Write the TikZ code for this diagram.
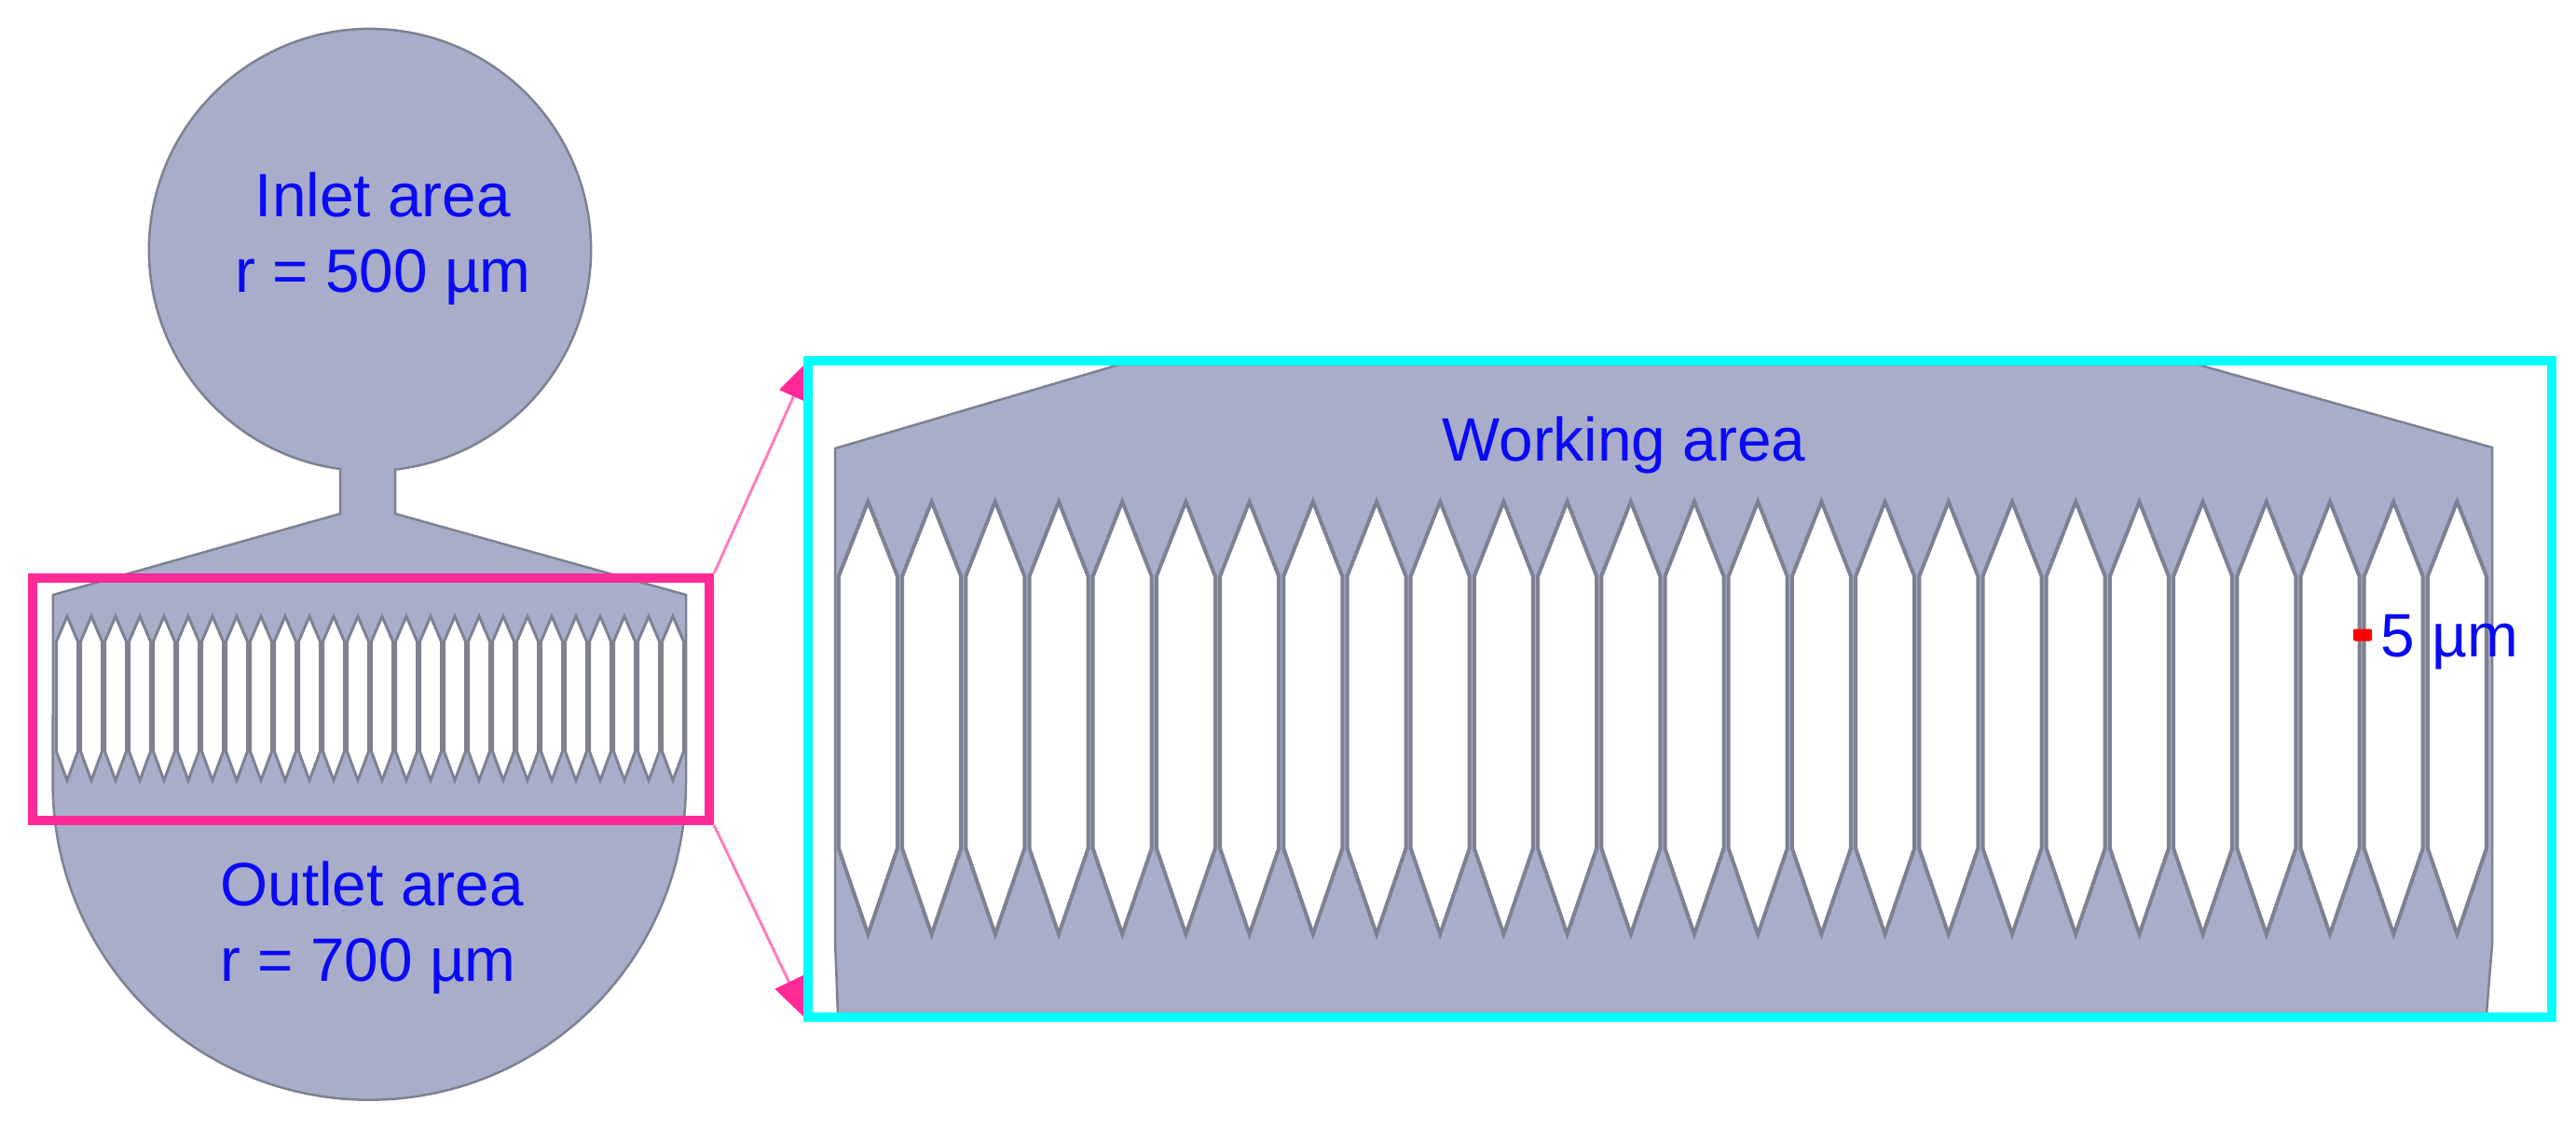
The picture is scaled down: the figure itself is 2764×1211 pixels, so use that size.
\documentclass[tikz,border=0pt]{standalone}
\usepackage{fontspec}
\setmainfont{Liberation Sans}
\usetikzlibrary{arrows.meta}
\definecolor{bodyfill}{HTML}{A8AEC9}
\definecolor{wallgray}{HTML}{7E8191}
\definecolor{framepink}{HTML}{FF2A96}
\definecolor{leaderpink}{HTML}{FF7DBE}
\definecolor{framecyan}{HTML}{00FFFF}
\definecolor{labelblue}{HTML}{0A0AF5}
\tikzset{>=latex,
  chip/.style={fill=bodyfill, draw=wallgray, line join=miter},
  slit/.style={fill=white, draw=wallgray, line join=miter},
  label/.style={text=labelblue, font=\fontsize{18.7}{23.3}\selectfont, inner sep=0pt},
  zoomframe/.style={draw, inner sep=0pt, line width=0.1cm},
  leader/.style={draw=leaderpink, line width=0.03cm, -{Triangle[length=0.45cm,width=0.33cm,color=framepink]}}
}
\begin{document}
\begin{tikzpicture}[x=0.01cm, y=0.01cm]
\useasboundingbox (0,0) rectangle (2764,1211);
% device outline
\draw[chip, line width=0.025cm] (57,573) -- (365,660) -- (365,708)
  arc[start angle=262.25, end angle=-83.4, radius=2.37cm]
  -- (424,660) -- (736,573) -- (736,371)
  arc[start angle=0, end angle=-180, radius=3.395cm] -- cycle;
\foreach \i in {0,...,25}
  \draw[slit, line width=0.03cm] ({72+26*\i},550) -- ({83.5+26*\i},523) -- ({83.5+26*\i},405) -- ({72+26*\i},374) -- ({60.5+26*\i},405) -- ({60.5+26*\i},523) -- cycle;
% enlarged part
\draw[chip, line width=0.025cm] (896,730) -- (1201,820) -- (2358,820) -- (2674,731) -- (2674,198) -- (2668,124) -- (899,124) -- (896,203) -- cycle;
\foreach \i in {0,...,25}
  \draw[slit, line width=0.04cm] ({931.4+68.2*\i},673) -- ({962.9+68.2*\i},593) -- ({962.9+68.2*\i},301) -- ({931.4+68.2*\i},209) -- ({899.9+68.2*\i},301) -- ({899.9+68.2*\i},593) -- cycle;
% frames
\node[zoomframe, draw=framepink, minimum width=7.26cm, minimum height=2.6cm] (source) at (398,461) {};
\coordinate (uptip) at (870,827);
\coordinate (downtip) at (866,117);
\draw[leader] (source.north east) -- (uptip);
\draw[leader] (source.south east) -- (downtip);
\node[zoomframe, draw=framecyan, minimum width=18.69cm, minimum height=7.04cm] (target) at (1802.5,472) {};
% labels
\node[label, align=center] (inlet) at (411,955) {Inlet area\\r = 500 µm};
\node[label, align=left] (outlet) at (399,216) {Outlet area\\r = 700 µm};
\node[label] (working) at (1742.5,734) {Working area};
\node[fill=red, inner sep=0pt, minimum width=0.2cm, minimum height=0.13cm, rounded corners=0.02cm] (gapmark) at (2535,530) {};
\node[label, anchor=base west] (gapwidth) at (2554,507) {5 µm};
\end{tikzpicture}
\end{document}
